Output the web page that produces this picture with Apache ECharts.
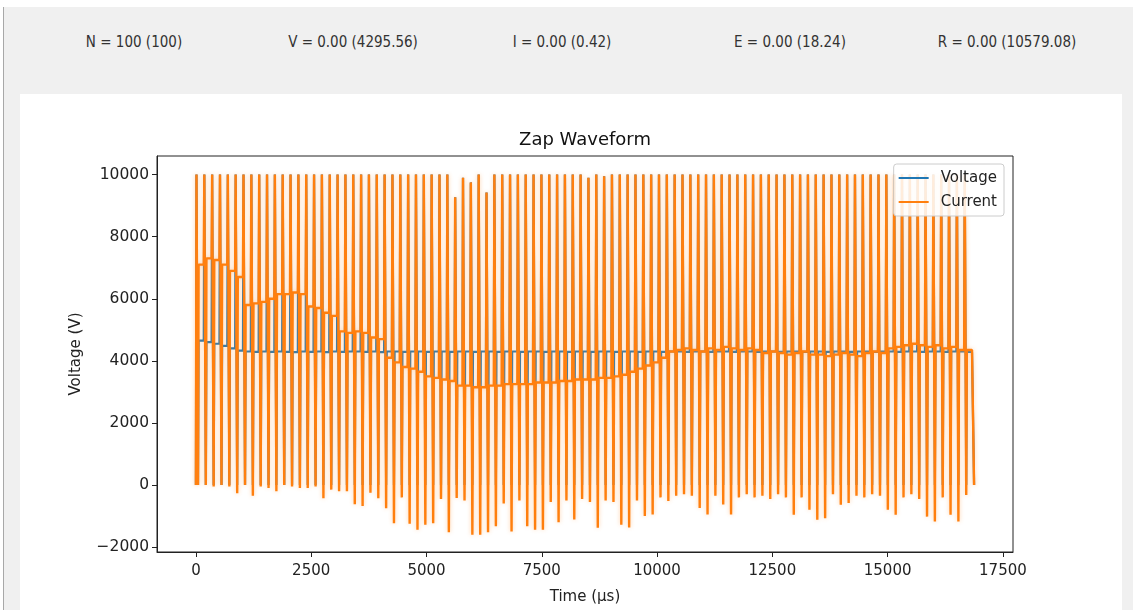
<!DOCTYPE html>
<html>
<head>
<meta charset="utf-8">
<script src="https://cdn.jsdelivr.net/npm/echarts@6/dist/echarts.min.js"></script>
<style>
  html, body { margin: 0; padding: 0; width: 1133px; height: 610px; overflow: hidden; background: #ffffff; }
  #frame { position: absolute; left: 3px; top: 7px; width: 1130px; height: 603px; background: #f0f0f0; border-left: 1px solid #a8a8a8; }
  #panel { position: absolute; left: 20px; top: 94px; width: 1102px; height: 516px; background: #ffffff; }
  .stat { position: absolute; top: 33px; font-family: "DejaVu Sans", sans-serif; font-stretch: condensed; font-size: 15px; color: #333; white-space: nowrap; transform: translateX(-50%); }
  #chart { position: absolute; left: 0; top: 0; width: 1133px; height: 610px; }
</style>
</head>
<body>
<div id="frame"></div>
<div id="panel"></div>
<div id="stats"></div>
<div id="chart"></div>
<script>
// ---- data ----
const statLabels = ["N = 100 (100)", "V = 0.00 (4295.56)", "I = 0.00 (0.42)", "E = 0.00 (18.24)", "R = 0.00 (10579.08)"];
const chartTitle = "Zap Waveform";
const xAxisTitle = "Time (µs)";
const yAxisTitle = "Voltage (V)";
const seriesNames = ["Voltage", "Current"];
const xTicks = [0, 2500, 5000, 7500, 10000, 12500, 15000, 17500];
const yTicks = [-2000, 0, 2000, 4000, 6000, 8000, 10000];

// pulse start times (µs)
const pulseTimes = [0,170,340,510,680,850,1020,1190,1360,1530,1700,1870,2040,2210,2380,2550,2720,2890,3060,3230,
  3400,3570,3740,3910,4080,4250,4420,4590,4760,4930,5100,5270,5440,5610,5780,5950,6120,6290,6460,6630,
  6800,6970,7140,7310,7480,7650,7820,7990,8160,8330,8500,8670,8840,9010,9180,9350,9520,9690,9860,10030,
  10200,10370,10540,10710,10880,11050,11220,11390,11560,11730,11900,12070,12240,12410,12580,12750,12920,13090,13260,13430,
  13600,13770,13940,14110,14280,14450,14620,14790,14960,15130,15300,15470,15640,15810,15980,16150,16320,16490,16660,16830];
// sample offsets inside one pulse (µs): start, peak, trough, settle
const pulseSampleOffsets = [0, 12, 45, 58];

// current trace (plotted on the voltage scale)
const currentPeak = [10000,10000,10000,10000,10000,10000,10000,10000,10000,10000,10000,10000,10000,10000,10000,10000,10000,10000,10000,10000,
  10000,10000,10000,10000,10000,10000,10000,10000,10000,10000,10000,10000,10000,9270,9900,9750,10000,9420,10000,10000,
  10000,10000,10000,10000,10000,10000,10000,10000,10000,10000,9900,10000,9950,10000,10000,10000,10000,10000,10000,10000,
  10000,10000,10000,10000,10000,10000,10000,10000,10000,10000,10000,10000,10000,10000,10000,10000,10000,10000,10000,10000,
  10000,10000,10000,10000,10000,10000,10000,10000,10000,10000,10000,10000,10000,10000,10000,10000,10000,10000,10000,4350];
const currentTrough = [0,0,-50,0,-50,-270,0,-350,-50,-100,-200,0,-50,-100,-100,-50,-430,-150,-200,-200,
  -620,-680,-250,-430,-750,-1230,-400,-1250,-1440,-1280,-1230,-450,-1520,-420,-500,-1600,-1600,-1520,-1330,-600,
  -1500,-500,-1330,-1440,-1440,-550,-1200,-500,-1110,-450,-550,-1380,-500,-550,-1280,-1370,-500,-1000,-950,-400,
  -520,-350,-300,-350,-740,-950,-350,-630,-950,-400,-300,-400,-350,-450,-300,-400,-960,-400,-800,-1120,
  -1070,-300,-640,-580,-350,-400,-300,-350,-800,-960,-400,-300,-450,-1020,-1180,-400,-960,-1180,-320,0];
const currentLevel = [7100,7300,7250,7100,6900,6700,5800,5850,5900,6000,6150,6150,6200,6150,5750,5700,5550,5450,4950,4900,
  4950,4900,4750,4700,4100,3950,3800,3750,3650,3500,3450,3400,3350,3200,3200,3150,3150,3200,3200,3250,
  3250,3250,3250,3300,3300,3300,3350,3350,3400,3400,3400,3450,3450,3500,3550,3650,3750,3850,3950,4100,
  4300,4350,4400,4350,4300,4400,4350,4450,4400,4350,4400,4350,4250,4300,4250,4200,4250,4300,4200,4200,
  4150,4200,4250,4200,4150,4250,4300,4250,4400,4450,4500,4550,4500,4450,4500,4400,4450,4350,4350,0];

// voltage trace
const voltagePeak = [10000,10000,10000,10000,10000,10000,10000,10000,10000,10000,10000,10000,10000,10000,10000,10000,10000,10000,10000,10000,
  10000,10000,10000,10000,10000,10000,10000,10000,10000,10000,10000,10000,10000,9270,9900,9750,10000,9420,10000,10000,
  10000,10000,10000,10000,10000,10000,10000,10000,10000,10000,9900,10000,9950,10000,10000,10000,10000,10000,10000,10000,
  10000,10000,10000,10000,10000,10000,10000,10000,10000,10000,10000,10000,10000,10000,10000,10000,10000,10000,10000,10000,
  10000,10000,10000,10000,10000,10000,10000,10000,10000,10000,10000,10000,10000,10000,10000,10000,10000,10000,10000,4300];
const voltageLow = [0,0,0,0,0,0,0,0,0,0,0,0,0,0,0,0,0,0,0,0,
  0,0,0,0,0,0,0,0,0,0,0,0,0,0,0,0,0,0,0,0,
  0,0,0,0,0,0,0,0,0,0,0,0,0,0,0,0,0,0,0,0,
  0,0,0,0,0,0,0,0,0,0,0,0,0,0,0,0,0,0,0,0,
  0,0,0,0,0,0,0,0,0,0,0,0,0,0,0,0,0,0,0,0];
const voltageLevel = [4650,4600,4550,4480,4400,4330,4300,4290,4300,4290,4300,4290,4280,4300,4290,4300,4280,4300,4290,4300,
  4300,4290,4300,4280,4300,4300,4290,4300,4300,4290,4300,4300,4290,4300,4300,4290,4300,4300,4290,4300,
  4300,4290,4300,4300,4290,4300,4300,4290,4300,4300,4290,4300,4300,4290,4300,4300,4290,4300,4300,4290,
  4300,4300,4290,4300,4300,4290,4300,4300,4290,4300,4300,4290,4300,4300,4290,4300,4300,4290,4300,4300,
  4290,4300,4300,4290,4300,4300,4290,4300,4300,4290,4300,4300,4290,4300,4300,4290,4300,4300,4290,0];

// ---- stats bar ----
const statCenters = [134, 353, 562, 790, 1007];
const statsEl = document.getElementById('stats');
statLabels.forEach((s, i) => {
  const d = document.createElement('div');
  d.className = 'stat';
  d.style.left = statCenters[i] + 'px';
  d.textContent = s;
  statsEl.appendChild(d);
});

// ---- build traces from the arrays ----
function buildTrace(peaks, lows, levels) {
  const pts = [];
  let prev = 0;
  for (let i = 0; i < pulseTimes.length; i++) {
    const t = pulseTimes[i];
    pts.push([t + pulseSampleOffsets[0], prev]);
    pts.push([t + pulseSampleOffsets[1], peaks[i]]);
    pts.push([t + pulseSampleOffsets[2], lows[i]]);
    pts.push([t + pulseSampleOffsets[3], levels[i]]);
    prev = levels[i];
  }
  return pts;
}
const voltageData = buildTrace(voltagePeak, voltageLow, voltageLevel);
const currentData = buildTrace(currentPeak, currentTrough, currentLevel);

const FONT = "DejaVu Sans";
const minusFmt = v => String(v).replace('-', '\u2212');

const chart = echarts.init(document.getElementById('chart'), null, { renderer: 'canvas' });
chart.setOption({
  animation: false,
  backgroundColor: 'transparent',
  textStyle: { fontFamily: FONT },
  graphic: [{
    type: 'text', x: 585, y: 131,
    style: { text: chartTitle, font: '18px "DejaVu Sans"', fill: '#111', textAlign: 'center' }
  }],
  grid: { left: 157, top: 156, width: 856, height: 398, show: true, borderColor: '#222', borderWidth: 1, backgroundColor: 'transparent' },
  legend: {
    data: seriesNames,
    orient: 'vertical',
    right: 1133 - 1004,
    top: 164,
    icon: 'rect',
    itemWidth: 30,
    itemHeight: 2,
    itemGap: 6,
    padding: [5, 7, 5, 5],
    backgroundColor: 'rgba(255,255,255,0.85)',
    borderColor: '#cccccc',
    borderWidth: 1,
    borderRadius: 3,
    textStyle: { fontFamily: FONT, fontSize: 15, color: '#222', padding: [0, 0, 0, 7], lineHeight: 18 }
  },
  xAxis: {
    type: 'value', min: -844, max: 17719,
    name: xAxisTitle, nameLocation: 'middle', nameGap: 38,
    nameTextStyle: { fontFamily: FONT, fontSize: 15, color: '#222' },
    axisLine: { show: true, onZero: false, lineStyle: { color: '#222', width: 1 } },
    axisTick: { show: true, inside: false, length: 5, lineStyle: { color: '#222' }, customValues: xTicks },
    axisLabel: { fontFamily: FONT, fontSize: 15, color: '#222', margin: 12, customValues: xTicks, formatter: minusFmt },
    splitLine: { show: false }
  },
  yAxis: {
    type: 'value', min: -2160, max: 10600,
    name: yAxisTitle, nameLocation: 'middle', nameGap: 73,
    nameTextStyle: { fontFamily: FONT, fontSize: 15, color: '#222' },
    axisLine: { show: true, onZero: false, lineStyle: { color: '#222', width: 1 } },
    axisTick: { show: true, inside: false, length: 5, lineStyle: { color: '#222' }, customValues: yTicks },
    axisLabel: { fontFamily: FONT, fontSize: 15.5, color: '#222', margin: 8, customValues: yTicks, formatter: minusFmt },
    splitLine: { show: false }
  },
  series: [
    { name: seriesNames[0], type: 'line', data: voltageData, symbol: 'none', showSymbol: false,
      lineStyle: { color: '#1f77b4', width: 2.2 }, itemStyle: { color: '#1f77b4' }, z: 2 },
    { name: seriesNames[1], type: 'line', data: currentData, symbol: 'none', showSymbol: false,
      lineStyle: { color: '#ff7f0e', width: 2.4, shadowColor: 'rgba(255,150,60,0.45)', shadowBlur: 4 },
      itemStyle: { color: '#ff7f0e' }, z: 3 }
  ]
});
</script>
</body>
</html>
